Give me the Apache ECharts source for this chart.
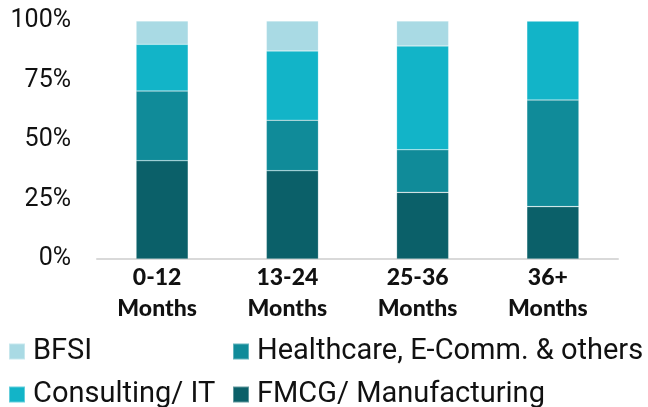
<!DOCTYPE html>
<html>
<head>
<meta charset="utf-8">
<script src="https://cdn.jsdelivr.net/npm/echarts@6/dist/echarts.min.js"></script>
<style>
  html, body { margin: 0; padding: 0; background: #fff; }
  #chart { width: 648px; height: 407px; }
</style>
</head>
<body>
<div id="chart"></div>
<script>
const categories = ['0-12\nMonths', '13-24\nMonths', '25-36\nMonths', '36+\nMonths']
const fmcg = [41.3, 37.1, 28.0, 22.0]
const healthcare = [29.3, 21.2, 17.9, 44.8]
const consulting = [19.6, 29.1, 43.6, 33.2]
const bfsi = [9.8, 12.6, 10.5, 0]
const yTicks = [0, 25, 50, 75, 100]

const colors = {
  bfsi: '#a9dae4',
  consulting: '#12b4c8',
  healthcare: '#108b99',
  fmcg: '#0b6069'
}

const chart = echarts.init(document.getElementById('chart'))

const barSeries = (name, data, color) => ({
  name,
  type: 'bar',
  stack: 'total',
  data,
  barWidth: '40%',
  itemStyle: {
    color,
    borderColor: 'rgba(255,255,255,0.35)',
    borderWidth: 0.6
  }
})

// one legend per item so the two columns line up like the original
const legendItem = (name, left, top) => ({
  data: [name],
  left,
  top,
  padding: 0,
  itemWidth: 16,
  itemHeight: 16,
  icon: 'rect',
  textStyle: {
    fontFamily: 'Roboto',
    fontSize: 29,
    color: '#111',
    padding: [0, 0, 0, 3]
  }
})

const option = {
  animation: false,
  grid: { left: 97, right: 30, top: 21, bottom: 148 },
  legend: [
    legendItem('BFSI', 8, 337),
    legendItem('Healthcare, E-Comm. & others', 232, 337),
    legendItem('Consulting/ IT', 8, 380),
    legendItem('FMCG/ Manufacturing', 232, 380)
  ],
  xAxis: {
    type: 'category',
    data: categories,
    axisLine: { lineStyle: { color: '#d9d9d9', width: 2 } },
    axisTick: { show: false },
    axisLabel: {
      fontFamily: 'Lato',
      fontWeight: 900,
      fontSize: 23,
      lineHeight: 31,
      color: '#111',
      margin: 3,
      padding: [0, 10, 0, 0]
    }
  },
  yAxis: {
    type: 'value',
    min: 0,
    max: 100,
    interval: 25,
    axisLine: { show: false },
    axisTick: { show: false },
    splitLine: { show: false },
    axisLabel: {
      fontFamily: 'Roboto',
      fontSize: 25,
      color: '#111',
      margin: 26,
      formatter: v => (yTicks.includes(v) ? v + '%' : '')
    }
  },
  series: [
    barSeries('FMCG/ Manufacturing', fmcg, colors.fmcg),
    barSeries('Healthcare, E-Comm. & others', healthcare, colors.healthcare),
    barSeries('Consulting/ IT', consulting, colors.consulting),
    barSeries('BFSI', bfsi, colors.bfsi)
  ]
}

chart.setOption(option)
</script>
</body>
</html>
